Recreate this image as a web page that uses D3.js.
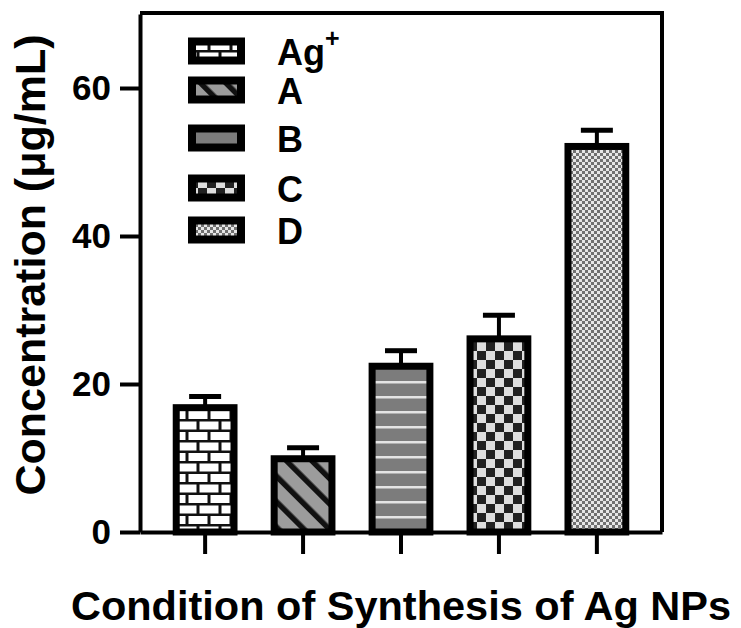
<!DOCTYPE html>
<html>
<head>
<meta charset="utf-8">
<script src="https://cdn.jsdelivr.net/npm/d3@7"></script>
<style>
  body { margin: 0; background: #fff; }
  text { font-family: "Liberation Sans", Arial, Helvetica, sans-serif; font-weight: bold; fill: #000; }
</style>
</head>
<body>
<svg id="bar"></svg>
<script>
// chart data
const categories = ['Ag+', 'A', 'B', 'C', 'D'];
const concentration = [16.8, 9.9, 22.4, 26.1, 52.1];
const errorUpper = [1.5, 1.5, 2.1, 3.2, 2.2];
const yTicks = [0, 20, 40, 60];
const legendLabels = ['Ag', 'A', 'B', 'C', 'D'];
const legendSup = ['+', '', '', '', ''];

// fill pattern used by each category (style, not data)
const patternFor = {
  'Ag+': 'brick',
  'A': 'diag',
  'B': 'hstripe',
  'C': 'checker',
  'D': 'dots'
};

const width = 741;
const height = 628;

const margin = {
  top: 14,
  bottom: 96,
  left: 140,
  right: 79
};

// hand placed legend rows, prism style
const legendRows = [51, 90, 138, 188, 230];

const svg = d3.select('#bar')
  .attr('width', width)
  .attr('height', height);

const scales = {
  x: d3.scaleBand(),
  y: d3.scaleLinear()
};

scales.x.domain(categories)
  .range([margin.left, width - margin.right])
  .paddingInner(0.41)
  .paddingOuter(0.37);

scales.y.domain([0, 70])
  .range([height - margin.bottom, margin.top]);

drawPatterns();
drawBars();
drawAxis();
drawTitles();
drawLegend();

/*
 * svg patterns for the bar fills
 */
function drawPatterns() {
  const defs = svg.append('defs');

  // brick wall
  const brick = defs.append('pattern')
    .attr('id', 'brick')
    .attr('patternUnits', 'userSpaceOnUse')
    .attr('width', 22).attr('height', 21);
  brick.append('rect').attr('width', 22).attr('height', 21).attr('fill', '#111');
  brick.append('rect').attr('x', 1.5).attr('y', 1.5).attr('width', 19).attr('height', 8).attr('fill', '#fff');
  brick.append('rect').attr('x', -9.5).attr('y', 12).attr('width', 19).attr('height', 8).attr('fill', '#fff');
  brick.append('rect').attr('x', 12.5).attr('y', 12).attr('width', 19).attr('height', 8).attr('fill', '#fff');

  // diagonal stripes
  const diag = defs.append('pattern')
    .attr('id', 'diag')
    .attr('patternUnits', 'userSpaceOnUse')
    .attr('width', 18).attr('height', 18)
    .attr('patternTransform', 'rotate(-45)');
  diag.append('rect').attr('width', 18).attr('height', 18).attr('fill', '#9c9c9c');
  diag.append('rect').attr('width', 5.5).attr('height', 18).attr('fill', '#111');

  // horizontal stripes
  const hs = defs.append('pattern')
    .attr('id', 'hstripe')
    .attr('patternUnits', 'userSpaceOnUse')
    .attr('width', 10).attr('height', 15);
  hs.append('rect').attr('width', 10).attr('height', 15).attr('fill', '#7c7c7c');
  hs.append('rect').attr('y', 6).attr('width', 10).attr('height', 2.5).attr('fill', '#e4e4e4');

  // checkerboard
  const ch = defs.append('pattern')
    .attr('id', 'checker')
    .attr('patternUnits', 'userSpaceOnUse')
    .attr('width', 18).attr('height', 18);
  ch.append('rect').attr('width', 18).attr('height', 18).attr('fill', '#dedede');
  ch.append('rect').attr('width', 9).attr('height', 9).attr('fill', '#222');
  ch.append('rect').attr('x', 9).attr('y', 9).attr('width', 9).attr('height', 9).attr('fill', '#222');

  // fine dots
  const dots = defs.append('pattern')
    .attr('id', 'dots')
    .attr('patternUnits', 'userSpaceOnUse')
    .attr('width', 6).attr('height', 6);
  dots.append('rect').attr('width', 6).attr('height', 6).attr('fill', '#707070');
  dots.append('rect').attr('width', 3).attr('height', 3).attr('fill', '#e6e6e6');
  dots.append('rect').attr('x', 3).attr('y', 3).attr('width', 3).attr('height', 3).attr('fill', '#e6e6e6');
}

/*
 * draw bars and error bars
 */
function drawBars() {
  const rows = categories.map((c, i) => ({ cat: c, value: concentration[i], err: errorUpper[i] }));

  const group = svg.append('g').attr('id', 'bars');

  group.selectAll('rect')
    .data(rows)
    .enter()
    .append('rect')
    .attr('x', d => scales.x(d.cat))
    .attr('y', d => scales.y(d.value))
    .attr('width', scales.x.bandwidth())
    .attr('height', d => scales.y(0) - scales.y(d.value))
    .attr('fill', d => 'url(#' + patternFor[d.cat] + ')')
    .attr('stroke', '#000')
    .attr('stroke-width', 7);

  const errors = svg.append('g').attr('id', 'errors');
  const mid = d => scales.x(d.cat) + scales.x.bandwidth() / 2;

  errors.selectAll('line.stem')
    .data(rows)
    .enter()
    .append('line')
    .attr('class', 'stem')
    .attr('x1', mid).attr('x2', mid)
    .attr('y1', d => scales.y(d.value))
    .attr('y2', d => scales.y(d.value + d.err))
    .attr('stroke', '#000')
    .attr('stroke-width', 4);

  errors.selectAll('line.cap')
    .data(rows)
    .enter()
    .append('line')
    .attr('class', 'cap')
    .attr('x1', d => mid(d) - 16).attr('x2', d => mid(d) + 16)
    .attr('y1', d => scales.y(d.value + d.err))
    .attr('y2', d => scales.y(d.value + d.err))
    .attr('stroke', '#000')
    .attr('stroke-width', 5);
}

/*
 * axes plus the closed frame
 */
function drawAxis() {
  const xRange = scales.x.range();
  const yRange = scales.y.range();

  // top and right of the box
  svg.append('path')
    .attr('d', 'M' + xRange[0] + ',' + (yRange[1] - 1) + 'H' + xRange[1] + 'V' + yRange[0])
    .attr('fill', 'none')
    .attr('stroke', '#000')
    .attr('stroke-width', 4);

  const yAxis = d3.axisLeft(scales.y)
    .tickValues(yTicks)
    .tickSizeInner(20)
    .tickSizeOuter(0)
    .tickPadding(9)
    .tickFormat(d3.format('d'));

  const xAxis = d3.axisBottom(scales.x)
    .tickSizeInner(22)
    .tickSizeOuter(0)
    .tickFormat('');

  const yGroup = svg.append('g')
    .attr('id', 'y-axis')
    .attr('transform', translate(margin.left, 0))
    .call(yAxis);

  const xGroup = svg.append('g')
    .attr('id', 'x-axis')
    .attr('transform', translate(0, height - margin.bottom))
    .call(xAxis);

  [xGroup, yGroup].forEach(g => {
    g.select('.domain').attr('stroke-width', 4).attr('stroke', '#000');
    g.selectAll('.tick line').attr('stroke-width', 4).attr('stroke', '#000');
  });

  yGroup.selectAll('.tick text')
    .attr('font-size', 35)
    .attr('font-family', null)
    .attr('fill', '#000');
}

/*
 * axis titles
 */
function drawTitles() {
  const xMiddle = midpoint(scales.x.range());

  svg.append('text')
    .attr('class', 'axis-title')
    .attr('x', xMiddle)
    .attr('y', 620)
    .attr('text-anchor', 'middle')
    .attr('font-size', 41.5)
    .text('Condition of Synthesis of Ag NPs');

  const yGroup = svg.append('g')
    .attr('transform', translate(45, 265));

  yGroup.append('text')
    .attr('class', 'axis-title')
    .attr('x', 0)
    .attr('y', 0)
    .attr('text-anchor', 'middle')
    .attr('transform', 'rotate(-90)')
    .attr('font-size', 43)
    .text('Concentration (μg/mL)');
}

/*
 * legend, swatches on the left and labels to the right
 */
function drawLegend() {
  const group = svg.append('g').attr('id', 'color-legend');

  const entries = group.selectAll('g')
    .data(categories)
    .enter()
    .append('g')
    .attr('transform', (d, i) => translate(0, legendRows[i]));

  entries.append('rect')
    .attr('x', 192)
    .attr('y', -9.5)
    .attr('width', 49)
    .attr('height', 19)
    .attr('fill', d => 'url(#' + patternFor[d] + ')')
    .attr('stroke', '#000')
    .attr('stroke-width', 8);

  const labels = entries.append('text')
    .attr('x', 277)
    .attr('y', 14)
    .attr('font-size', 36);

  labels.append('tspan')
    .text((d, i) => legendLabels[i]);

  labels.append('tspan')
    .attr('font-size', 25)
    .attr('dy', -18)
    .text((d, i) => legendSup[i]);
}

function midpoint(range) {
  return range[0] + (range[1] - range[0]) / 2.0;
}

function translate(x, y) {
  return 'translate(' + String(x) + ',' + String(y) + ')';
}
</script>
</body>
</html>
